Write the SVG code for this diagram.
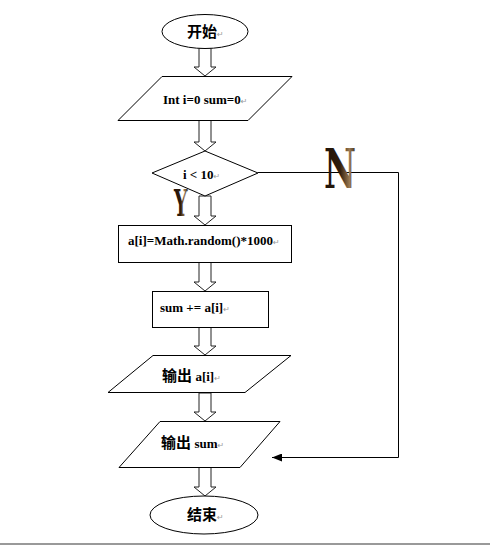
<svg xmlns="http://www.w3.org/2000/svg" width="490" height="546" viewBox="0 0 490 546">
<defs>
<style>
.shape{fill:#fff;stroke:#000;stroke-width:1}
.blk{fill:#fff;stroke:#222;stroke-width:1}
.t{font-family:"Liberation Serif","Noto Sans CJK SC",serif;font-weight:bold;font-size:13px;fill:#000}
.c{font-family:"Noto Sans CJK SC","Liberation Serif",sans-serif;font-weight:bold;font-size:15px;fill:#000}
.pm{font-family:"DejaVu Sans",sans-serif;font-weight:normal;font-size:8px;fill:#999}
.line{fill:none;stroke:#000;stroke-width:1}
.wa{font-family:"DejaVu Serif Condensed","DejaVu Serif",serif;font-weight:bold}
</style>
<marker id="ah" viewBox="0 0 10 8" refX="10" refY="4" markerWidth="10" markerHeight="8" markerUnits="userSpaceOnUse" orient="auto">
<path d="M0,0 L10,4 L0,8 Z" fill="#000"/>
</marker>
<linearGradient id="wg" x1="0" y1="0" x2="1" y2="0">
<stop offset="0" stop-color="#1e1208"/>
<stop offset="0.5" stop-color="#2e1c0c"/>
<stop offset="0.8" stop-color="#9a7a52"/>
<stop offset="1" stop-color="#3a2614"/>
</linearGradient>
</defs>
<rect width="490" height="546" fill="#fff"/>
<line x1="0" y1="544" x2="490" y2="544" stroke="#999" stroke-width="2"/>

<g id="connectors">
<path class="blk" d="M199,48 L199,67 L194,67 L205,76 L216,67 L211,67 L211,48 Z"/>
<path class="blk" d="M199,120 L199,142 L194,142 L205,151 L216,142 L211,142 L211,120 Z"/>
<path class="blk" d="M199,196 L199,216 L194,216 L205,225 L216,216 L211,216 L211,196 Z"/>
<path class="blk" d="M199,262 L199,282 L194,282 L205,291 L216,282 L211,282 L211,262 Z"/>
<path class="blk" d="M199,327 L199,346 L194,346 L205,355 L216,346 L211,346 L211,327 Z"/>
<path class="blk" d="M199,393 L199,412 L194,412 L205,421 L216,412 L211,412 L211,393 Z"/>
<path class="blk" d="M199,467 L199,487 L194,487 L205,496 L216,487 L211,487 L211,467 Z"/>
<path class="line" d="M258,172.5 L398.5,172.5 L398.5,457.5 L272,457.5" marker-end="url(#ah)"/>
</g>

<g id="start">
<ellipse class="shape" cx="205" cy="31.5" rx="43" ry="17"/>
<text class="c" x="187" y="37">开始<tspan class="pm">↵</tspan></text>
</g>

<g id="init">
<path class="shape" d="M162,76.5 L292,76.5 L248,120.5 L118,120.5 Z"/>
<text class="t" x="163" y="104">Int i=0 sum=0<tspan class="pm">↵</tspan></text>
</g>

<g id="cond">
<path class="shape" d="M205,151 L258,173 L205,196 L152,173 Z"/>
<text class="t" x="183" y="179">i &lt; 10<tspan class="pm">↵</tspan></text>
</g>

<g id="assign">
<rect class="shape" x="118.5" y="225.5" width="173" height="37"/>
<text class="t" x="128" y="245">a[i]=Math.random()*1000<tspan class="pm">↵</tspan></text>
</g>

<g id="sum">
<rect class="shape" x="152.5" y="291.5" width="116" height="36"/>
<text class="t" x="160" y="312">sum += a[i]<tspan class="pm">↵</tspan></text>
</g>

<g id="out-ai">
<path class="shape" d="M153,355.5 L291,355.5 L245,392.5 L108,392.5 Z"/>
<text class="c" x="162" y="381">输出 <tspan class="t">a[i]</tspan><tspan class="pm">↵</tspan></text>
</g>

<g id="out-sum">
<path class="shape" d="M160,421.5 L280,421.5 L240,467.5 L119,467.5 Z"/>
<text class="c" x="161" y="448">输出 <tspan class="t">sum</tspan><tspan class="pm">↵</tspan></text>
</g>

<g id="end">
<ellipse class="shape" cx="204" cy="515" rx="54" ry="19"/>
<text class="c" x="187" y="520">结束<tspan class="pm">↵</tspan></text>
</g>

<g id="label-n">
<text class="wa" x="0" y="0" font-size="54" fill="url(#wg)" transform="translate(324,188) scale(0.72,1)">N</text>
</g>
<g id="label-y">
<text class="wa" x="0" y="0" font-size="38" fill="url(#wg)" transform="translate(174,216) scale(0.55,1)">Y</text>
</g>
</svg>
